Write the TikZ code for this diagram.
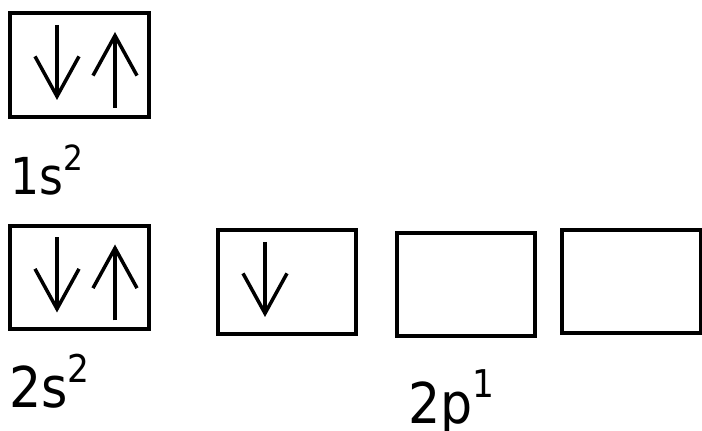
\documentclass[tikz,border=0pt]{standalone}
\usepackage{fontspec}
\usepackage{graphicx}
\setmainfont{DejaVu Sans}[FakeStretch=0.9]
\usetikzlibrary{arrows.meta, calc}

% occupation number, raised and shrunk
\newcommand{\occ}[2][0.5cm]{\raisebox{#1}{\scalebox{0.68}{#2}}}

\begin{document}
\begin{tikzpicture}[
    x=0.02cm, y=-0.02cm,
    orbital/.style={rectangle, draw, line width=0.08cm,
        minimum width=2.78cm, minimum height=2.08cm, inner sep=0pt},
    spin/.style={line width=0.07cm, -{Straight Barb[length=0.8cm, width=0.88cm]}},
    level/.style={anchor=base west, inner sep=0pt, font=\fontsize{#1}{#1}\selectfont},
]
\useasboundingbox (0,0) rectangle (702,431);

% --- Orbital boxes ---
\node[orbital] (s1) at (79.5,65) {};
\node[orbital] (s2) at (79.5,277.5) {};
\node[orbital] (px) at (287,282) {};
\node[orbital] (py) at (466,284.5) {};
\node[orbital] (pz) at (631,281.5) {};

% --- Electrons ---
\draw[spin] ($(s1)+(-22.5,-40)$) -- ($(s1)+(-22.5,35)$);
\draw[spin] ($(s1)+(35.5,43)$) -- ($(s1)+(35.5,-33)$);
\draw[spin] ($(s2)+(-22.5,-40)$) -- ($(s2)+(-22.5,35)$);
\draw[spin] ($(s2)+(35.5,43)$) -- ($(s2)+(35.5,-33)$);
\draw[spin] ($(px)+(-22,-40)$) -- ($(px)+(-22,35)$);

% --- Labels ---
\node[level=29] (l1s) at (10,195) {1s\occ{2}};
\node[level=32] (l2s) at (9,408) {2s\occ[0.52cm]{2}};
\node[level=32] (l2p) at (408,423) {2p\occ[0.52cm]{1}};

\end{tikzpicture}
\end{document}
